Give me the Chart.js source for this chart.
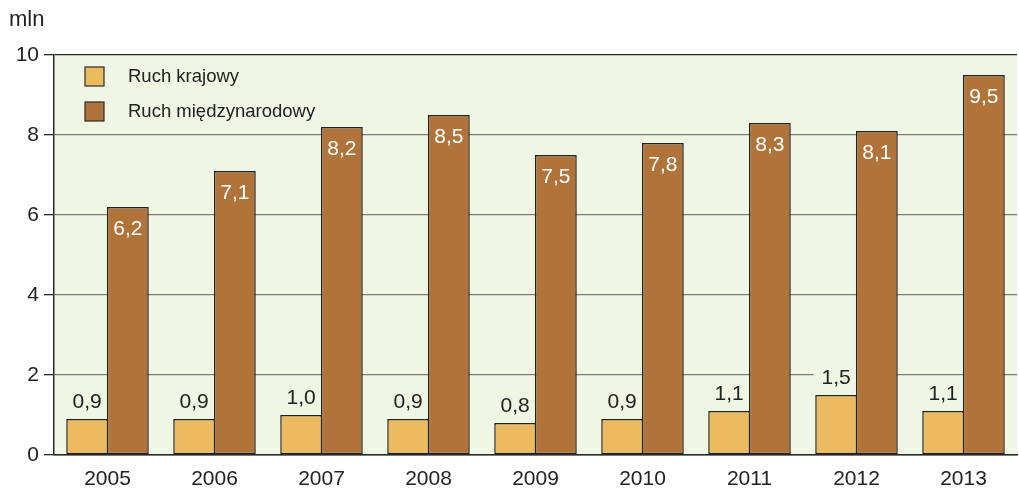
<!DOCTYPE html>
<html>
<head>
<meta charset="utf-8">
<script src="https://cdn.jsdelivr.net/npm/chart.js"></script>
<style>
  html, body { margin: 0; padding: 0; background: #ffffff; }
  #wrap { width: 1019px; height: 495px; position: relative; }
</style>
</head>
<body>
<div id="wrap"><canvas id="myChart"></canvas></div>
<script>
  // data
  const years = ['2005', '2006', '2007', '2008', '2009', '2010', '2011', '2012', '2013'];
  const domestic = [0.9, 0.9, 1.0, 0.9, 0.8, 0.9, 1.1, 1.5, 1.1];
  const international = [6.2, 7.1, 8.2, 8.5, 7.5, 7.8, 8.3, 8.1, 9.5];
  const seriesNames = ['Ruch krajowy', 'Ruch międzynarodowy'];
  const unitLabel = 'mln';

  const FONT = '"Liberation Sans", Arial, sans-serif';
  const plotBg = '#eff6e4';
  const colDomestic = '#edbb5f';
  const colInternational = '#b0733a';

  // background of the plot area + "mln"
  const backgroundPlugin = {
    id: 'plotBackground',
    beforeDraw(chart) {
      const { ctx, chartArea: a } = chart;
      ctx.save();
      ctx.fillStyle = plotBg;
      ctx.fillRect(a.left, a.top, a.right - a.left, a.bottom - a.top);
      ctx.fillStyle = '#222';
      ctx.font = '22px ' + FONT;
      ctx.textAlign = 'left';
      ctx.textBaseline = 'middle';
      ctx.fillText(unitLabel, 9, 20);
      ctx.restore();
    }
  };

  // value labels on the bars + legend inside the plot
  const labelsPlugin = {
    id: 'valueLabels',
    beforeDatasetsDraw(chart) {
      // plot background behind the domestic labels, hiding the grid there
      const ctx = chart.ctx;
      ctx.save();
      ctx.font = '21px ' + FONT;
      chart.getDatasetMeta(0).data.forEach((bar, i) => {
        const txt = domestic[i].toFixed(1).replace('.', ',');
        const w = ctx.measureText(txt).width;
        ctx.fillStyle = plotBg;
        ctx.fillRect(bar.x - w / 2 - 8, bar.y - 28, w + 30, 22);
      });
      ctx.restore();
    },
    afterDatasetsDraw(chart) {
      const ctx = chart.ctx;
      ctx.save();
      ctx.font = '21px ' + FONT;
      ctx.textAlign = 'center';
      ctx.textBaseline = 'middle';
      // domestic: above the bar
      chart.getDatasetMeta(0).data.forEach((bar, i) => {
        const txt = domestic[i].toFixed(1).replace('.', ',');
        ctx.fillStyle = '#222';
        ctx.fillText(txt, bar.x, bar.y - 17);
      });
      // international: inside the top of the bar, white
      chart.getDatasetMeta(1).data.forEach((bar, i) => {
        const txt = international[i].toFixed(1).replace('.', ',');
        ctx.fillStyle = '#ffffff';
        ctx.fillText(txt, bar.x, bar.y + 22);
      });

      // legend
      const colors = [colDomestic, colInternational];
      ctx.font = '18.5px ' + FONT;
      ctx.textAlign = 'left';
      seriesNames.forEach((name, k) => {
        const y = 67 + k * 35;
        ctx.fillStyle = colors[k];
        ctx.fillRect(85, y, 19, 19);
        ctx.strokeStyle = '#2a2a2a';
        ctx.lineWidth = 1.2;
        ctx.strokeRect(85, y, 19, 19);
        ctx.fillStyle = '#222';
        ctx.fillText(name, 128, y + 10);
      });
      ctx.restore();
    }
  };

  const ctx = document.getElementById('myChart');

  new Chart(ctx, {
    type: 'bar',
    data: {
      labels: years,
      datasets: [{
        label: seriesNames[0],
        data: domestic,
        backgroundColor: colDomestic,
        borderColor: '#222',
        borderWidth: 1.5,
        borderSkipped: false
      }, {
        label: seriesNames[1],
        data: international,
        backgroundColor: colInternational,
        borderColor: '#222',
        borderWidth: 1.5,
        borderSkipped: false
      }]
    },
    options: {
      responsive: true,
      maintainAspectRatio: false,
      animation: false,
      datasets: {
        bar: { barPercentage: 1.03, categoryPercentage: 0.76 }
      },
      layout: { padding: { top: 55, right: 2, left: 0, bottom: 0 } },
      plugins: {
        legend: { display: false },
        tooltip: { enabled: false }
      },
      scales: {
        x: {
          grid: { display: false, drawTicks: false },
          border: { display: true, color: '#2a2a2a', width: 1.5 },
          ticks: { color: '#222', font: { family: FONT, size: 21 }, padding: 12 },
          afterFit(scale) { scale.height = 40; }
        },
        y: {
          min: 0,
          max: 10,
          ticks: { stepSize: 2, color: '#222', font: { family: FONT, size: 21 }, padding: 5 },
          grid: {
            color: (c) => (c.tick && (c.tick.value === 0 || c.tick.value === 10)) ? '#2a2a2a' : '#7d7d75',
            lineWidth: 1.3,
            tickLength: 10,
            tickColor: '#2a2a2a'
          },
          border: { display: true, color: '#2a2a2a', width: 1.5 },
          afterFit(scale) { scale.width = 54; }
        }
      }
    },
    plugins: [backgroundPlugin, labelsPlugin]
  });
</script>
</body>
</html>
